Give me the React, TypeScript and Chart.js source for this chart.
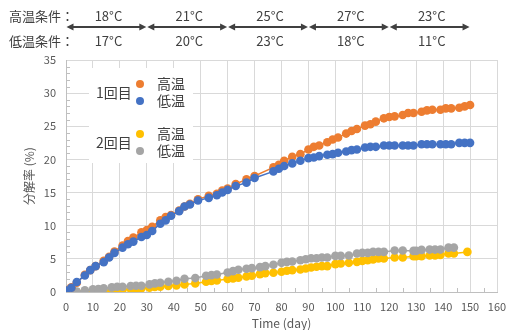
import React, { useEffect, useRef } from 'react';
import { Chart, registerables } from 'chart.js';
Chart.register(...registerables);

// ---- data ----
const days1 = [0,2,4,7,9,11,14,16,18,21,23,25,28,30,32,35,37,39,42,44,46,49,53,56,58,60,63,67,70,77,79,81,84,87,90,92,94,97,99,101,104,106,108,111,113,115,118,120,122,125,127,129,132,134,136,139,141,143,146,148,150];
const high1 = [0.2,0.7,1.4,2.6,3.3,3.9,4.7,5.3,6.1,7.0,7.7,8.2,9.0,9.35,9.85,10.8,11.3,11.6,12.3,12.9,13.3,14.0,14.5,14.8,15.3,15.6,16.3,17.0,17.5,18.8,19.2,19.8,20.4,20.8,21.5,21.9,22.1,22.6,23.0,23.3,23.9,24.3,24.6,25.1,25.3,25.7,26.2,26.4,26.5,26.7,27.0,27.0,27.2,27.4,27.5,27.5,27.7,27.7,27.8,28.0,28.2];
const low1 = [0.2,0.65,1.5,2.5,3.3,3.9,4.5,5.2,5.9,6.7,7.2,7.6,8.3,8.6,9.2,10.3,10.8,11.5,12.2,12.9,13.2,13.8,14.2,14.6,15.0,15.4,16.0,16.5,17.2,18.2,18.6,19.0,19.4,19.8,20.2,20.3,20.5,20.7,20.8,21.0,21.2,21.4,21.5,21.8,21.9,21.9,22.1,22.1,22.1,22.1,22.1,22.1,22.3,22.3,22.3,22.3,22.3,22.3,22.5,22.5,22.5];

const daysLow2 = [4,7,10,12,14,17,19,21,24,26,28,31,33,35,38,41,44,48,52,54,56,60,62,64,67,69,72,74,77,80,82,84,87,89,91,93,95,97,100,102,105,108,110,112,114,116,118,122,125,129,130,132,135,137,139,142,144];
const low2 = [0.05,0.25,0.4,0.45,0.55,0.7,0.8,0.8,0.9,0.95,0.95,1.15,1.3,1.4,1.55,1.7,2.0,2.1,2.45,2.55,2.65,2.95,3.15,3.35,3.5,3.6,3.75,3.9,4.1,4.4,4.55,4.6,4.8,4.95,5.1,5.1,5.2,5.2,5.45,5.45,5.5,5.8,5.9,5.9,6.05,6.05,6.05,6.25,6.25,6.2,6.2,6.35,6.4,6.4,6.4,6.7,6.7];
const daysHigh2 = [4,7,10,12,14,17,19,21,24,26,28,31,33,35,38,41,44,48,52,54,56,60,62,64,67,69,72,74,77,80,82,84,87,89,91,93,95,97,100,102,105,108,110,112,114,116,118,122,125,129,130,132,135,137,139,142,144,149];
const high2 = [0.0,0.05,0.1,0.15,0.2,0.25,0.3,0.35,0.45,0.5,0.55,0.65,0.75,0.8,0.9,1.0,1.15,1.3,1.55,1.65,1.75,1.95,2.05,2.15,2.35,2.45,2.7,2.85,2.9,3.05,3.2,3.3,3.4,3.55,3.7,3.8,3.9,3.9,4.2,4.3,4.4,4.55,4.7,4.8,4.9,5.05,5.05,5.2,5.2,5.4,5.4,5.4,5.5,5.5,5.6,5.8,5.8,6.05];

const periodStart = [0, 30, 60, 90, 120];
const periodEnd = [30, 60, 90, 120, 150];
const highTemps = ['18°C', '21°C', '25°C', '27°C', '23°C'];
const lowTemps = ['17°C', '20°C', '23°C', '18°C', '11°C'];
const highLabel = '高温条件：';
const lowLabel = '低温条件：';
const runLabels = ['1回目', '2回目'];
const condLabels = ['高温', '低温'];
const yTitle = '分解率 (%)';
const xTitle = 'Time (day)';

const ORANGE = '#ED7D31';
const BLUE = '#4472C4';
const YELLOW = '#FFC000';
const GRAY = '#A5A5A5';
const FONT = '"Noto Sans CJK JP", "Noto Sans", sans-serif';

const toXY = (xs: number[], ys: number[]) => xs.map((x, i) => ({ x, y: ys[i] }));

const decoPlugin = {
  id: 'deco',
  beforeDatasetsDraw(chart: any) {
    const ctx = chart.ctx;
    const xs = chart.scales.x;
    const ys = chart.scales.y;
    const area = chart.chartArea;
    ctx.save();
    // minor ticks
    ctx.strokeStyle = '#bfbfbf';
    ctx.lineWidth = 1;
    for (let v = 1; v < 35; v++) {
      if (v % 5 === 0) continue;
      const y = Math.round(ys.getPixelForValue(v)) + 0.5;
      ctx.beginPath();
      ctx.moveTo(area.left, y);
      ctx.lineTo(area.left + 4, y);
      ctx.stroke();
    }
    for (let d = 5; d < 160; d += 10) {
      const x = Math.round(xs.getPixelForValue(d)) + 0.5;
      ctx.beginPath();
      ctx.moveTo(x, area.bottom);
      ctx.lineTo(x, area.bottom - 4);
      ctx.stroke();
    }
    // white legend box
    ctx.fillStyle = '#ffffff';
    ctx.fillRect(89, 68, 104, 95);
    ctx.restore();
  },
  afterDraw(chart: any) {
    const ctx = chart.ctx;
    const xs = chart.scales.x;
    const area = chart.chartArea;
    ctx.save();
    // header
    ctx.fillStyle = '#404040';
    ctx.font = `13px ${FONT}`;
    ctx.textBaseline = 'middle';
    ctx.textAlign = 'left';
    ctx.fillText(highLabel, 9, 16);
    ctx.fillText(lowLabel, 9, 41);
    ctx.textAlign = 'center';
    const ay = 27;
    for (let i = 0; i < periodStart.length; i++) {
      const x0 = xs.getPixelForValue(periodStart[i]) + 0.5;
      const x1 = xs.getPixelForValue(periodEnd[i]) - 0.5;
      const cx = (x0 + x1) / 2;
      ctx.fillStyle = '#404040';
      ctx.fillText(highTemps[i], cx + 2, 16);
      ctx.fillText(lowTemps[i], cx + 2, 41);
      ctx.strokeStyle = '#404040';
      ctx.lineWidth = 2;
      ctx.beginPath();
      ctx.moveTo(x0 + 4, ay);
      ctx.lineTo(x1 - 4, ay);
      ctx.stroke();
      ctx.beginPath();
      ctx.moveTo(x0, ay);
      ctx.lineTo(x0 + 7, ay - 3.5);
      ctx.lineTo(x0 + 7, ay + 3.5);
      ctx.closePath();
      ctx.fill();
      ctx.beginPath();
      ctx.moveTo(x1, ay);
      ctx.lineTo(x1 - 7, ay - 3.5);
      ctx.lineTo(x1 - 7, ay + 3.5);
      ctx.closePath();
      ctx.fill();
    }
    // legend
    const groups = [
      { label: runLabels[0], y: 93, colors: [ORANGE, BLUE], ys: [84, 101] },
      { label: runLabels[1], y: 143, colors: [YELLOW, GRAY], ys: [134, 151] },
    ];
    ctx.font = `14px ${FONT}`;
    for (const g of groups) {
      ctx.fillStyle = '#404040';
      ctx.textAlign = 'left';
      ctx.fillText(g.label, 96, g.y);
      for (let k = 0; k < 2; k++) {
        ctx.fillStyle = g.colors[k];
        ctx.beginPath();
        ctx.arc(140, g.ys[k], 4, 0, Math.PI * 2);
        ctx.fill();
        ctx.fillStyle = '#404040';
        ctx.fillText(condLabels[k], 157, g.ys[k]);
      }
    }
    // axis titles
    ctx.fillStyle = '#595959';
    ctx.font = `12px ${FONT}`;
    ctx.textAlign = 'center';
    ctx.fillText(xTitle, (area.left + area.right) / 2, 323);
    ctx.translate(29, (area.top + area.bottom) / 2 + 0);
    ctx.rotate(-Math.PI / 2);
    ctx.fillText(yTitle, 0, 0);
    ctx.restore();
  },
};

const ds = (label: string, xs: number[], ys: number[], color: string) => ({
  label,
  data: toXY(xs, ys),
  showLine: true,
  borderColor: color,
  backgroundColor: color,
  borderWidth: 1.5,
  pointRadius: 4.3,
  pointBorderWidth: 0,
  pointBackgroundColor: color,
});

export default function App() {
  const ref = useRef<HTMLCanvasElement>(null);
  useEffect(() => {
    if (!ref.current) return;
    const chart = new Chart(ref.current, {
      type: 'scatter',
      data: {
        datasets: [
          ds('1回目 低温', days1, low1, BLUE),
          ds('1回目 高温', days1, high1, ORANGE),
          ds('2回目 低温', daysLow2, low2, GRAY),
          ds('2回目 高温', daysHigh2, high2, YELLOW),
        ],
      },
      options: {
        responsive: false,
        devicePixelRatio: 1,
        animation: false,
        layout: { padding: { top: 60, right: 10, left: 0, bottom: 0 } },
        plugins: { legend: { display: false }, tooltip: { enabled: false } },
        scales: {
          x: {
            type: 'linear',
            min: 0,
            max: 160,
            ticks: { stepSize: 10, color: '#595959', font: { size: 11, family: FONT }, padding: 8, maxRotation: 0 },
            grid: { color: '#d9d9d9', drawTicks: false },
            border: { color: '#bfbfbf' },
            afterFit: (s: any) => { s.height = 38; s.paddingRight = 0; s.paddingLeft = 0; },
          },
          y: {
            min: 0,
            max: 35,
            ticks: { stepSize: 5, color: '#595959', font: { size: 11, family: FONT }, padding: 10 },
            grid: { color: '#d9d9d9', drawTicks: false },
            border: { color: '#bfbfbf' },
            afterFit: (s: any) => { s.width = 66; s.paddingTop = 0; s.paddingBottom = 0; },
          },
        },
      },
      plugins: [decoPlugin],
    } as any);
    return () => chart.destroy();
  }, []);
  return (
    <div style={{ position: 'fixed', left: 0, top: 0, width: 507, height: 330, background: '#fff' }}>
      <canvas ref={ref} width={507} height={330} style={{ display: 'block' }} />
    </div>
  );
}
